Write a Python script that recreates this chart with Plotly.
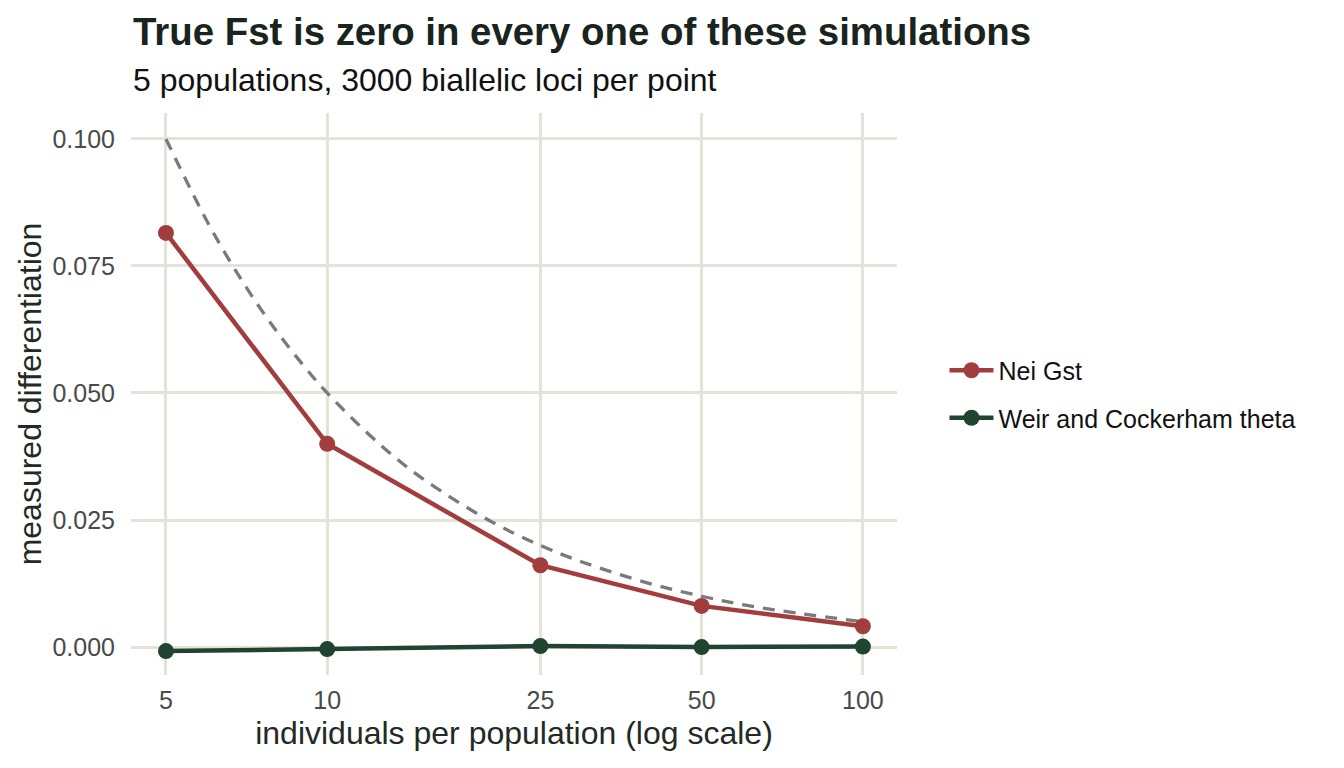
import plotly.graph_objects as go

n_individuals = [5, 10, 25, 50, 100]
nei_gst = [0.0815, 0.0400, 0.0161, 0.0081, 0.0041]
wc_theta = [-0.0008, -0.0004, 0.0002, 0.0000, 0.0001]

# dashed reference curve
ref_x = [5, 6, 7, 8, 9, 10, 12.5, 15, 20, 25, 30, 40, 50, 60, 75, 100]
ref_y = [0.1, 0.0833, 0.0714, 0.0625, 0.0556, 0.05, 0.04, 0.0333, 0.025,
         0.02, 0.0167, 0.0125, 0.01, 0.0083, 0.0067, 0.005]

x_ticks = [5, 10, 25, 50, 100]
x_tick_labels = ["5", "10", "25", "50", "100"]
y_ticks = [0.0, 0.025, 0.05, 0.075, 0.1]
y_tick_labels = ["0.000", "0.025", "0.050", "0.075", "0.100"]

title_text = "True Fst is zero in every one of these simulations"
subtitle_text = "5 populations, 3000 biallelic loci per point"

RED = "#A23D3D"
GREEN = "#1F4430"
FONT = "Liberation Sans, Arial, sans-serif"
GRID = "#E3E3D8"

fig = go.Figure()
fig.add_trace(go.Scatter(x=ref_x, y=ref_y, mode="lines", showlegend=False,
                         line=dict(color="#7a7a7a", width=3.3, dash="12px,9px", shape="spline"),
                         hoverinfo="skip"))
fig.add_trace(go.Scatter(x=n_individuals, y=nei_gst, mode="lines+markers", name="Nei Gst",
                         legendgroup="a",
                         line=dict(color=RED, width=4.5), marker=dict(color=RED, size=16)))
fig.add_trace(go.Scatter(x=n_individuals, y=wc_theta, mode="lines+markers",
                         name="Weir and Cockerham theta", legendgroup="b",
                         line=dict(color=GREEN, width=4.5), marker=dict(color=GREEN, size=16)))

fig.add_annotation(text="<b>" + title_text + "</b>", xref="paper", yref="paper",
                   x=0, y=(675 - 32) / 562, xanchor="left", yanchor="middle",
                   showarrow=False, font=dict(size=38.4, color="#1a241f", family=FONT))
fig.add_annotation(text=subtitle_text, xref="paper", yref="paper",
                   x=0, y=(675 - 80) / 562, xanchor="left", yanchor="middle",
                   showarrow=False, font=dict(size=32, color="#111111", family=FONT))

fig.update_layout(
    width=1344, height=768,
    margin=dict(l=131, r=447, t=113, b=93),
    paper_bgcolor="white", plot_bgcolor="white",
    font=dict(family=FONT, color="#1a1a1a"),
    legend=dict(x=1.062, xanchor="left", y=0.5, yanchor="middle",
                font=dict(size=25, color="#111111"), tracegroupgap=12,
                itemwidth=44),
    xaxis=dict(type="log", range=[0.6337, 2.0637], tickvals=x_ticks, ticktext=x_tick_labels,
               showgrid=True, gridcolor=GRID, gridwidth=2.6, zeroline=False,
               showline=False, ticks="", tickfont=dict(size=25, color="#4a4a4a"),
               ticklabelstandoff=8,
               title=dict(text="individuals per population (log scale)",
                          font=dict(size=32, color="#1f2b24"), standoff=8)),
    yaxis=dict(range=[-0.0055, 0.1051], tickvals=y_ticks, ticktext=y_tick_labels,
               showgrid=True, gridcolor=GRID, gridwidth=2.6, zeroline=False,
               showline=False, ticks="", tickfont=dict(size=25, color="#4a4a4a"),
               ticklabelstandoff=15,
               title=dict(text="measured differentiation",
                          font=dict(size=32, color="#1f2b24"), standoff=1)),
)

fig.write_html("out.html")
